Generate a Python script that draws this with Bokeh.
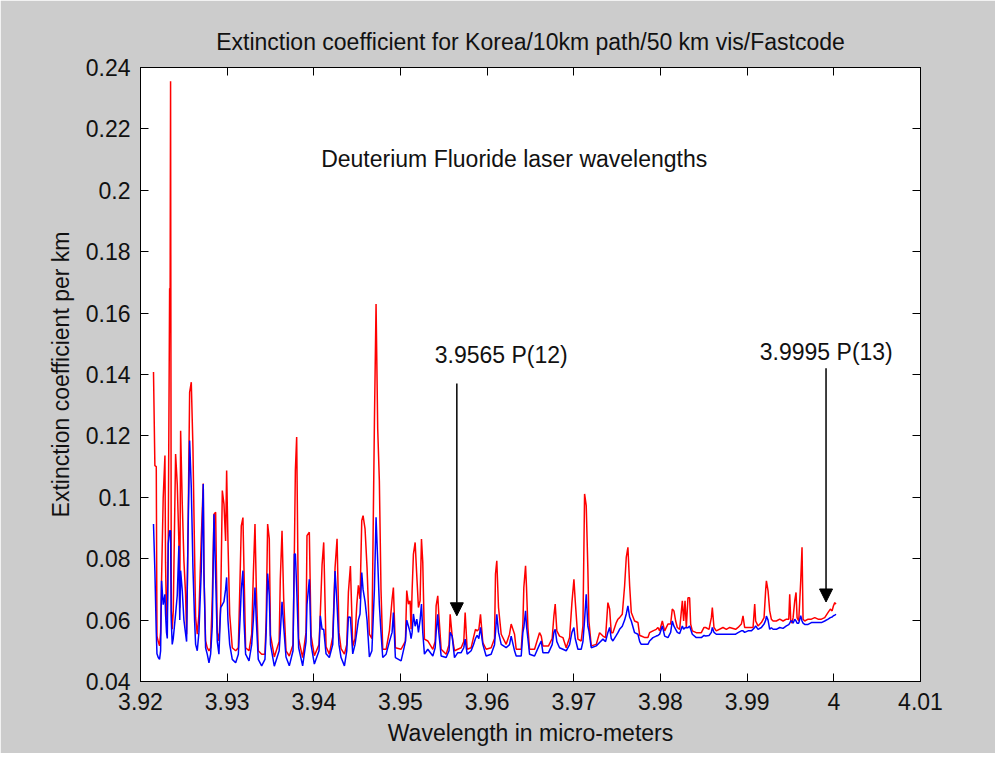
from bokeh.plotting import figure
from bokeh.models import (Range1d, LinearAxis, FixedTicker, CustomJSTickFormatter,
                          Label, Arrow, NormalHead)
from bokeh.embed import file_html
from bokeh.resources import INLINE

# ---------------- data ----------------
wavelength = [
    3.92150, 3.92166, 3.92182, 3.92190, 3.92205, 3.92220, 3.92232, 3.92243, 3.92262, 3.92282,
    3.92289, 3.92300, 3.92309, 3.92320, 3.92336, 3.92342, 3.92347, 3.92355, 3.92366, 3.92378, 3.92405,
    3.92424, 3.92443, 3.92453, 3.92463, 3.92482, 3.92501, 3.92520, 3.92532, 3.92547, 3.92567,
    3.92586, 3.92605, 3.92624, 3.92636, 3.92655, 3.92674, 3.92701, 3.92724, 3.92732, 3.92751,
    3.92770, 3.92790, 3.92809, 3.92828, 3.92848, 3.92867, 3.92886, 3.92905, 3.92925, 3.92944,
    3.92963, 3.92982, 3.92994, 3.93009, 3.93029, 3.93059, 3.93098, 3.93129, 3.93148, 3.93163,
    3.93182, 3.93194, 3.93213, 3.93252, 3.93283, 3.93302, 3.93321, 3.93336, 3.93359, 3.93398,
    3.93436, 3.93450, 3.93467, 3.93486, 3.93500, 3.93544, 3.93600, 3.93613, 3.93633, 3.93652,
    3.93679, 3.93717, 3.93760, 3.93775, 3.93787, 3.93802, 3.93825, 3.93871, 3.93910, 3.93921,
    3.93948, 3.93968, 3.94006, 3.94060, 3.94075, 3.94095, 3.94114, 3.94141, 3.94179, 3.94218,
    3.94245, 3.94268, 3.94290, 3.94314, 3.94353, 3.94380, 3.94399, 3.94422, 3.94449, 3.94475,
    3.94495, 3.94514, 3.94533, 3.94553, 3.94568, 3.94591, 3.94614, 3.94641, 3.94670, 3.94699,
    3.94718, 3.94737, 3.94756, 3.94775, 3.94795, 3.94834, 3.94872, 3.94903, 3.94918, 3.94941,
    3.95007, 3.95057, 3.95072, 3.95092, 3.95111, 3.95122, 3.95134, 3.95149, 3.95169, 3.95188,
    3.95207, 3.95226, 3.95242, 3.95257, 3.95276, 3.95315, 3.95373, 3.95400, 3.95411, 3.95430,
    3.95442, 3.95469, 3.95527, 3.95560, 3.95573, 3.95596, 3.95623, 3.95661, 3.95700, 3.95730,
    3.95746, 3.95769, 3.95815, 3.95842, 3.95865, 3.95884, 3.95904, 3.95923, 3.95950, 3.95988,
    3.96046, 3.96085, 3.96096, 3.96111, 3.96131, 3.96162, 3.96219, 3.96258, 3.96277, 3.96316,
    3.96335, 3.96393, 3.96412, 3.96423, 3.96443, 3.96454, 3.96470, 3.96489, 3.96547, 3.96604,
    3.96624, 3.96643, 3.96708, 3.96750, 3.96770, 3.96785, 3.96804, 3.96835, 3.96874, 3.96912,
    3.96951, 3.96978, 3.97001, 3.97016, 3.97047, 3.97085, 3.97105, 3.97124, 3.97143, 3.97162,
    3.97174, 3.97201, 3.97259, 3.97297, 3.97336, 3.97366, 3.97393, 3.97413, 3.97432, 3.97451,
    3.97490, 3.97509, 3.97528, 3.97559, 3.97586, 3.97605, 3.97624, 3.97644, 3.97663, 3.97701,
    3.97740, 3.97760, 3.97778, 3.97820, 3.97855, 3.97874, 3.97913, 3.97951, 3.97971, 3.97990,
    3.98021, 3.98048, 3.98086, 3.98117, 3.98136, 3.98155, 3.98175, 3.98194, 3.98221, 3.98252,
    3.98267, 3.98283, 3.98298, 3.98317, 3.98336, 3.98348, 3.98367, 3.98413, 3.98471, 3.98502,
    3.98521, 3.98560, 3.98587, 3.98598, 3.98617, 3.98644, 3.98721, 3.98760, 3.98798, 3.98867,
    3.98895, 3.98933, 3.98952, 3.98971, 3.99010, 3.99048, 3.99068, 3.99087, 3.99098, 3.99125,
    3.99164, 3.99195, 3.99214, 3.99222, 3.99241, 3.99260, 3.99279, 3.99299, 3.99337, 3.99376,
    3.99414, 3.99453, 3.99480, 3.99491, 3.99503, 3.99518, 3.99530, 3.99549, 3.99564, 3.99576,
    3.99595, 3.99618, 3.99633, 3.99645, 3.99664, 3.99703, 3.99741, 3.99780, 3.99818, 3.99857,
    3.99895, 3.99934, 3.99960, 3.99980, 3.99995, 4.00011, 4.00025,
]

extinction_50km_vis = [  # red curve
    0.1408, 0.1103, 0.1100, 0.0548, 0.0530, 0.0516, 0.0560, 0.0733, 0.0999, 0.1136,
    0.0788, 0.0600, 0.0630, 0.0848, 0.1680, 0.1680, 0.2355, 0.0630, 0.0570, 0.0630, 0.1141,
    0.1043, 0.0853, 0.0640, 0.1217, 0.0978, 0.0793, 0.0684, 0.0554, 0.0853, 0.1342,
    0.1375, 0.1163, 0.0815, 0.0608, 0.0554, 0.0619, 0.0864, 0.1045, 0.0755, 0.0532,
    0.0510, 0.0500, 0.0510, 0.0668, 0.0945, 0.0951, 0.0560, 0.0532, 0.0646, 0.1022,
    0.0978, 0.0858, 0.1087, 0.0858, 0.0620, 0.0510, 0.0500, 0.0510, 0.0727, 0.0907,
    0.0934, 0.0766, 0.0510, 0.0500, 0.0554, 0.0749, 0.0913, 0.0706, 0.0500, 0.0489,
    0.0489, 0.0600, 0.0913, 0.0865, 0.0550, 0.0480, 0.0530, 0.0733, 0.0891, 0.0670,
    0.0500, 0.0483, 0.0520, 0.0815, 0.1087, 0.1196, 0.0538, 0.0478, 0.0560, 0.0875,
    0.0886, 0.0550, 0.0484, 0.0520, 0.0623, 0.0780, 0.0853, 0.0513, 0.0489, 0.0545,
    0.0771, 0.0865, 0.0560, 0.0507, 0.0489, 0.0520, 0.0691, 0.0776, 0.0515, 0.0540,
    0.0647, 0.0713, 0.0669, 0.0924, 0.0940, 0.0897, 0.0771, 0.0554, 0.0540, 0.1244,
    0.1630, 0.1223, 0.1054, 0.0700, 0.0505, 0.0505, 0.0565, 0.0668, 0.0706, 0.0510,
    0.0505, 0.0532, 0.0696, 0.0652, 0.0663, 0.0570, 0.0696, 0.0815, 0.0853, 0.0744,
    0.0641, 0.0663, 0.0864, 0.0788, 0.0538, 0.0532, 0.0505, 0.0530, 0.0646, 0.0679,
    0.0619, 0.0505, 0.0489, 0.0520, 0.0619, 0.0548, 0.0500, 0.0505, 0.0510, 0.0530,
    0.0625, 0.0505, 0.0510, 0.0543, 0.0570, 0.0565, 0.0570, 0.0619, 0.0527, 0.0505,
    0.0510, 0.0540, 0.0750, 0.0793, 0.0641, 0.0554, 0.0521, 0.0554, 0.0587, 0.0554,
    0.0505, 0.0505, 0.0587, 0.0706, 0.0777, 0.0706, 0.0576, 0.0505, 0.0505, 0.0559,
    0.0548, 0.0516, 0.0516, 0.0540, 0.0614, 0.0652, 0.0565, 0.0548, 0.0543, 0.0510,
    0.0543, 0.0657, 0.0733, 0.0663, 0.0538, 0.0532, 0.0581, 0.1011, 0.0973, 0.0766,
    0.0597, 0.0516, 0.0521, 0.0559, 0.0548, 0.0543, 0.0657, 0.0636, 0.0559, 0.0559,
    0.0592, 0.0603, 0.0608, 0.0619, 0.0712, 0.0804, 0.0837, 0.0712, 0.0625, 0.0597,
    0.0592, 0.0550, 0.0548, 0.0543, 0.0543, 0.0559, 0.0565, 0.0570, 0.0576, 0.0565,
    0.0597, 0.0565, 0.0587, 0.0587, 0.0636, 0.0630, 0.0597, 0.0576, 0.0570, 0.0663,
    0.0597, 0.0663, 0.0576, 0.0673, 0.0673, 0.0587, 0.0565, 0.0559, 0.0559, 0.0576,
    0.0576, 0.0570, 0.0608, 0.0641, 0.0576, 0.0565, 0.0576, 0.0570, 0.0576, 0.0570,
    0.0576, 0.0587, 0.0614, 0.0576, 0.0576, 0.0576, 0.0576, 0.0652, 0.0597, 0.0581,
    0.0592, 0.0608, 0.0700, 0.0728, 0.0695, 0.0630, 0.0603, 0.0597, 0.0597, 0.0603,
    0.0597, 0.0603, 0.0603, 0.0684, 0.0597, 0.0590, 0.0608, 0.0663, 0.0690, 0.0608,
    0.0597, 0.0728, 0.0837, 0.0603, 0.0597, 0.0603, 0.0603, 0.0608, 0.0603, 0.0603,
    0.0608, 0.0625, 0.0636, 0.0630, 0.0646, 0.0657, 0.0652,
]

extinction_blue = [  # blue curve
    0.0913, 0.0761, 0.0560, 0.0490, 0.0478, 0.0472, 0.0500, 0.0728, 0.0650, 0.0684,
    0.0620, 0.0560, 0.0540, 0.0849, 0.0891, 0.0891, 0.0891, 0.0600, 0.0521, 0.0540, 0.0620,
    0.0680, 0.0842, 0.0600, 0.0761, 0.0695, 0.0600, 0.0556, 0.0530, 0.0853, 0.1185,
    0.1032, 0.0771, 0.0600, 0.0521, 0.0500, 0.0560, 0.0760, 0.1043, 0.0755, 0.0510,
    0.0489, 0.0461, 0.0489, 0.0580, 0.0945, 0.0740, 0.0530, 0.0489, 0.0641, 0.0650,
    0.0660, 0.0700, 0.0739, 0.0600, 0.0521, 0.0472, 0.0461, 0.0489, 0.0600, 0.0700,
    0.0761, 0.0600, 0.0489, 0.0467, 0.0520, 0.0600, 0.0706, 0.0600, 0.0472, 0.0451,
    0.0472, 0.0560, 0.0752, 0.0680, 0.0520, 0.0450, 0.0500, 0.0560, 0.0660, 0.0580,
    0.0480, 0.0451, 0.0500, 0.0815, 0.0815, 0.0706, 0.0510, 0.0451, 0.0530, 0.0650,
    0.0733, 0.0520, 0.0457, 0.0500, 0.0614, 0.0570, 0.0570, 0.0490, 0.0478, 0.0520,
    0.0760, 0.0650, 0.0520, 0.0478, 0.0451, 0.0500, 0.0610, 0.0609, 0.0490, 0.0520,
    0.0560, 0.0600, 0.0620, 0.0755, 0.0700, 0.0660, 0.0600, 0.0480, 0.0500, 0.0700,
    0.0935, 0.0793, 0.0650, 0.0560, 0.0478, 0.0489, 0.0530, 0.0560, 0.0625, 0.0478,
    0.0467, 0.0530, 0.0600, 0.0580, 0.0560, 0.0540, 0.0560, 0.0620, 0.0580, 0.0603,
    0.0560, 0.0600, 0.0652, 0.0560, 0.0489, 0.0505, 0.0483, 0.0510, 0.0560, 0.0619,
    0.0560, 0.0483, 0.0478, 0.0500, 0.0560, 0.0548, 0.0478, 0.0494, 0.0494, 0.0510,
    0.0538, 0.0489, 0.0500, 0.0520, 0.0540, 0.0550, 0.0540, 0.0576, 0.0521, 0.0483,
    0.0489, 0.0520, 0.0560, 0.0619, 0.0560, 0.0521, 0.0510, 0.0520, 0.0548, 0.0500,
    0.0483, 0.0483, 0.0560, 0.0576, 0.0630, 0.0580, 0.0540, 0.0489, 0.0483, 0.0520,
    0.0532, 0.0494, 0.0494, 0.0520, 0.0560, 0.0570, 0.0530, 0.0510, 0.0505, 0.0500,
    0.0520, 0.0560, 0.0576, 0.0540, 0.0505, 0.0505, 0.0530, 0.0600, 0.0684, 0.0580,
    0.0565, 0.0510, 0.0516, 0.0527, 0.0538, 0.0530, 0.0560, 0.0576, 0.0540, 0.0532,
    0.0550, 0.0559, 0.0570, 0.0580, 0.0600, 0.0620, 0.0646, 0.0610, 0.0597, 0.0559,
    0.0554, 0.0530, 0.0521, 0.0521, 0.0521, 0.0532, 0.0543, 0.0548, 0.0550, 0.0554,
    0.0581, 0.0548, 0.0543, 0.0560, 0.0597, 0.0580, 0.0570, 0.0560, 0.0556, 0.0581,
    0.0570, 0.0575, 0.0576, 0.0575, 0.0581, 0.0570, 0.0554, 0.0543, 0.0543, 0.0550,
    0.0548, 0.0550, 0.0560, 0.0576, 0.0560, 0.0554, 0.0554, 0.0554, 0.0554, 0.0554,
    0.0559, 0.0565, 0.0565, 0.0560, 0.0565, 0.0565, 0.0570, 0.0576, 0.0581, 0.0570,
    0.0576, 0.0587, 0.0600, 0.0613, 0.0600, 0.0570, 0.0575, 0.0570, 0.0570, 0.0576,
    0.0573, 0.0581, 0.0585, 0.0590, 0.0597, 0.0597, 0.0590, 0.0603, 0.0597, 0.0590,
    0.0590, 0.0614, 0.0597, 0.0590, 0.0586, 0.0586, 0.0592, 0.0592, 0.0592, 0.0592,
    0.0597, 0.0603, 0.0608, 0.0610, 0.0614, 0.0616, 0.0619,
]

x_ticks = [3.92, 3.93, 3.94, 3.95, 3.96, 3.97, 3.98, 3.99, 4.00, 4.01]
y_ticks = [0.04, 0.06, 0.08, 0.10, 0.12, 0.14, 0.16, 0.18, 0.20, 0.22, 0.24]

title_text = "Extinction coefficient for Korea/10km path/50 km vis/Fastcode"
x_label = "Wavelength in micro-meters"
y_label = "Extinction coefficient per km"

note_text = ["Deuterium Fluoride laser wavelengths", "3.9565 P(12)", "3.9995 P(13)"]
note_x = [3.96312, 3.96162, 3.99913]
note_y = [0.2101, 0.1462, 0.1472]

arrow_x = [3.9565, 3.9991]
arrow_top = [0.1371, 0.1420]
arrow_tip = [0.0614, 0.0659]

# ---------------- figure ----------------
FONT = "Liberation Sans"
FS = "23px"
GREY = "#cccccc"
INK = "#111111"

p = figure(
    frame_width=780, frame_height=614,
    min_border_left=140, min_border_right=75, min_border_top=67, min_border_bottom=72,
    x_range=Range1d(3.92, 4.01), y_range=Range1d(0.04, 0.24),
    output_backend="svg", toolbar_location=None,
    background_fill_color="white", border_fill_color=GREY,
    x_axis_label=x_label, y_axis_label=y_label,
)
p.xgrid.visible = False
p.ygrid.visible = False
p.outline_line_color = "black"
p.outline_line_width = 1

p.title.text = title_text
p.title.align = "center"
p.title.text_font = FONT
p.title.text_font_size = FS
p.title.text_font_style = "normal"
p.title.text_color = INK
p.title.standoff = 25

fmt = CustomJSTickFormatter(code=r"""
    return tick.toFixed(2).replace(/0+$/, '').replace(/\.$/, '');
""")

def style_axis(ax, ticks, show_labels):
    ax.ticker = FixedTicker(ticks=ticks)
    ax.major_tick_in = 8
    ax.major_tick_out = 0
    ax.minor_tick_line_color = None
    ax.axis_line_color = "black"
    ax.major_tick_line_color = "black"
    ax.major_tick_line_width = 1
    if show_labels:
        ax.formatter = fmt
        ax.major_label_text_font = FONT
        ax.major_label_text_font_size = FS
        ax.major_label_text_color = INK
        ax.axis_label_text_font = FONT
        ax.axis_label_text_font_size = FS
        ax.axis_label_text_font_style = "normal"
        ax.axis_label_text_color = INK
    else:
        ax.major_label_text_font_size = "0px"
        ax.major_label_standoff = 0
        ax.major_label_text_alpha = 0

style_axis(p.xaxis[0], x_ticks, True)
style_axis(p.yaxis[0], y_ticks, True)
p.xaxis[0].major_label_standoff = 11
p.xaxis[0].axis_label_standoff = 7
p.yaxis[0].major_label_standoff = 10
p.yaxis[0].axis_label_standoff = 9

top_axis = LinearAxis()
right_axis = LinearAxis()
style_axis(top_axis, x_ticks, False)
style_axis(right_axis, y_ticks, False)
p.add_layout(top_axis, "above")
p.add_layout(right_axis, "right")

# ---------------- data lines ----------------
p.line(wavelength, extinction_50km_vis, line_color="#ff0000", line_width=1.5)
p.line(wavelength, extinction_blue, line_color="#0000ff", line_width=1.5)

# ---------------- annotations ----------------
for t, x, y in zip(note_text, note_x, note_y):
    p.add_layout(Label(x=x, y=y, text=t, text_align="center", text_baseline="middle",
                       text_font=FONT, text_font_size=FS, text_color=INK))

for x, y0, y1 in zip(arrow_x, arrow_top, arrow_tip):
    p.add_layout(Arrow(x_start=x, y_start=y0, x_end=x, y_end=y1,
                       line_color="black", line_width=1.5,
                       end=NormalHead(size=13, fill_color="black", line_color="black")))

open("out.html", "w").write(file_html(p, INLINE))
